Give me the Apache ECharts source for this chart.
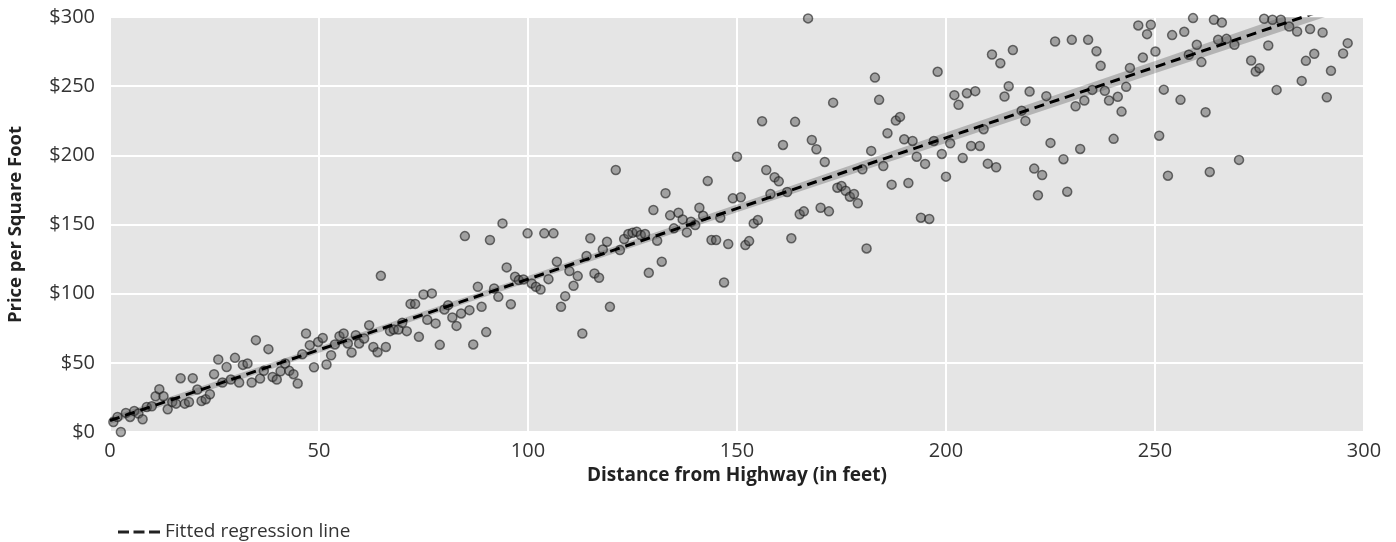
<!DOCTYPE html>
<html>
<head>
<meta charset="utf-8">
<script src="https://cdn.jsdelivr.net/npm/echarts@6/dist/echarts.min.js"></script>
<style>
html,body{margin:0;padding:0;background:#fff;}
#chart{width:1396px;height:542px;}
</style>
</head>
<body>
<div id="chart"></div>
<script>
// Scatter observations: distance (feet) and price per square foot ($)
const distFeet = [
0.8,1.8,2.6,3.8,4.8,5.8,6.8,7.8,8.8,10.0,10.9,11.8,12.8,13.8,14.9,15.8,16.9,17.9,18.9,19.8,
20.9,21.9,22.9,23.9,24.9,25.9,26.9,27.9,28.9,29.9,30.9,31.8,32.9,33.9,34.9,35.9,36.8,37.9,38.9,39.9,
40.8,41.9,42.9,43.9,44.9,46.0,46.9,47.8,48.8,49.8,50.9,51.8,52.9,53.8,54.9,55.9,56.9,57.8,58.8,59.6,
60.8,62.0,63.0,64.0,64.8,66.0,67.0,67.9,69.0,69.9,71.0,71.9,73.0,73.9,75.0,75.9,77.0,77.9,78.9,80.0,
80.9,81.9,82.9,84.0,84.9,86.0,86.9,88.0,88.9,90.0,90.9,91.9,92.9,93.9,94.9,95.9,96.9,97.8,98.9,99.9,
100.9,101.9,103.0,103.9,104.9,106.1,106.9,107.9,108.9,109.9,110.9,111.9,113.0,114.0,114.9,115.9,117.0,117.9,118.9,119.6,
121.0,122.0,123.0,124.0,125.0,126.0,127.0,128.0,128.9,130.0,130.9,132.0,132.9,134.0,134.9,136.0,137.0,138.0,139.0,140.0,
141.0,141.9,143.0,143.9,145.0,146.0,146.9,147.9,149.0,150.0,150.9,152.0,152.9,154.0,155.0,156.0,157.0,158.0,159.0,160.0,
161.0,162.0,163.0,163.9,165.0,166.0,167.0,167.9,169.0,170.0,171.0,172.0,173.0,174.0,175.0,176.0,177.0,178.0,178.9,180.0,
181.0,182.1,183.0,184.0,185.0,186.0,187.0,188.0,189.0,190.0,191.0,192.0,193.0,194.0,195.0,196.0,197.1,198.0,199.0,200.0,
201.0,202.0,203.0,204.0,205.0,206.0,207.0,208.1,209.0,210.0,211.0,212.0,213.0,214.0,215.0,216.0,218.1,219.0,220.0,221.1,
222.0,223.0,224.0,225.0,226.1,228.1,229.0,230.1,231.0,232.1,233.1,234.0,235.0,236.0,237.0,238.0,239.0,240.1,241.1,242.0,
243.1,244.0,246.0,247.1,248.1,249.0,250.1,251.0,252.1,253.1,254.1,256.1,257.0,258.1,259.1,260.0,261.1,262.1,263.1,264.1,
265.1,266.0,267.1,269.0,270.1,273.0,274.1,275.0,276.1,277.1,278.1,279.1,280.1,282.1,284.0,285.1,286.1,287.1,288.1,290.1,
291.1,292.1,295.0,296.1
];
const pricePerSqFt = [
7.2,10.9,0,13.8,10.9,15.2,13.3,9.2,18.1,18.6,25.8,30.9,25.8,16.4,21.7,20.5,38.9,20.5,21.7,38.9,
30.7,22.4,23.7,27.3,41.8,52.4,35.8,47.0,37.9,53.6,35.8,48.5,49.5,35.8,66.4,38.6,44.2,59.9,39.8,37.9,
43.9,49.5,44.2,41.8,35.0,56.2,71.2,62.8,46.8,65.1,68.0,48.8,55.5,63.3,69.3,71.2,64.0,57.5,70.0,64.0,
67.6,77.2,61.5,57.7,112.9,61.5,72.9,74.1,74.1,78.9,72.9,92.6,92.6,68.8,99.4,81.1,100.2,78.5,63.0,88.6,
91.7,82.8,76.7,85.7,141.6,88.1,63.3,105.0,90.5,72.2,138.8,103.8,97.7,150.8,119.0,92.4,112.2,109.8,110.3,143.6,
107.4,105.0,103.0,143.6,110.5,143.6,123.1,90.5,98.2,116.3,105.7,112.7,71.2,127.2,140.0,114.6,111.5,132.0,137.5,90.5,
189.4,131.5,139.5,143.1,144.0,144.8,142.4,143.1,115.1,160.5,138.3,123.1,172.6,156.6,147.2,158.5,153.7,144.3,152.0,149.6,
162.1,156.3,181.5,138.8,138.8,154.9,108.1,135.9,168.9,199.0,169.7,135.1,138.0,150.8,153.2,224.7,189.4,172.0,184.1,181.2,
207.5,173.5,140.0,224.2,157.4,159.5,299.0,211.1,204.4,162.1,195.2,159.5,238.1,176.6,177.8,174.4,170.1,172.0,165.3,189.9,
132.7,203.2,256.2,240.1,192.3,216.0,178.8,225.1,227.8,211.6,180.0,210.4,199.0,154.9,193.8,154.0,210.4,260.4,201.0,184.6,
208.7,243.5,236.5,198.1,244.9,206.8,246.4,206.8,218.9,194.0,272.9,191.4,266.6,242.5,250.0,276.1,232.3,224.9,246.1,190.4,
171.1,185.8,242.8,209.0,282.3,197.2,173.7,283.5,235.5,204.6,239.6,283.5,247.3,275.3,264.7,246.6,239.6,211.9,242.3,231.6,
249.5,263.2,293.9,270.7,287.6,294.4,275.0,214.2,247.5,185.3,286.9,240.1,289.3,272.7,299.2,279.9,267.4,231.2,188.0,298.0,
283.5,296.0,284.2,279.9,196.7,268.5,260.6,263.0,298.7,279.4,298.0,247.3,298.0,293.1,289.5,253.8,268.3,291.3,273.4,288.8,
242.0,261.1,273.6,281.1
];

// Fitted regression line (endpoints)
const fitX = [0, 300];
const fitY = [8.3, 314.9];

// Confidence band around the fitted line
const bandX  = [0, 50, 100, 150, 200, 250, 300];
const bandLo = [5.7, 57.2, 108.3, 158.8, 208.9, 259.4, 309.3];
const bandHi = [10.9, 61.6, 112.7, 164.4, 216.5, 268.2, 320.5];

// Axis ticks
const xTicks = [0, 50, 100, 150, 200, 250, 300];
const yTicks = [0, 50, 100, 150, 200, 250, 300];

const FONT = 'Open Sans';

const scatterData = distFeet.map((x, i) => [x, pricePerSqFt[i]]);
const lineData = fitX.map((x, i) => [x, fitY[i]]);

const chart = echarts.init(document.getElementById('chart'), null, {renderer: 'canvas'});

chart.setOption({
  animation: false,
  backgroundColor: '#ffffff',
  textStyle: {fontFamily: FONT},
  grid: {
    left: 110, right: 32, top: 17, bottom: 110,
    show: true, backgroundColor: '#e5e5e5', borderWidth: 0,
    containLabel: false,
    outerBoundsMode: 'none'
  },
  legend: {
    data: [{
      name: 'Fitted regression line',
      icon: 'path://M0,0 H11 V3 H0 Z M15.5,0 H26.5 V3 H15.5 Z M31,0 H42 V3 H31 Z',
      itemStyle: {color: '#222222'}
    }],
    left: 113, top: 516,
    itemWidth: 42, itemHeight: 3, itemGap: 12,
    textStyle: {fontFamily: FONT, fontSize: 19, color: '#333333', lineHeight: 22, padding: [0, 0, 0, 0]}
  },
  xAxis: {
    type: 'value', min: xTicks[0], max: xTicks[xTicks.length - 1], interval: 50,
    name: 'Distance from Highway (in feet)',
    nameLocation: 'middle', nameGap: 24,
    nameTextStyle: {fontFamily: FONT, fontSize: 19, fontWeight: 'bold', color: '#222222'},
    axisLine: {show: false}, axisTick: {show: false},
    axisLabel: {fontFamily: FONT, fontSize: 20, color: '#333333', margin: 9},
    splitLine: {show: true, lineStyle: {color: '#ffffff', width: 2}}
  },
  yAxis: {
    type: 'value', min: yTicks[0], max: yTicks[yTicks.length - 1], interval: 50,
    name: 'Price per Square Foot',
    nameLocation: 'middle', nameGap: 85, nameRotate: 90,
    nameTextStyle: {fontFamily: FONT, fontSize: 18.5, fontWeight: 'bold', color: '#222222'},
    axisLine: {show: false}, axisTick: {show: false},
    axisLabel: {fontFamily: FONT, fontSize: 20, color: '#333333', margin: 15,
      formatter: v => '$' + v},
    splitLine: {show: true, lineStyle: {color: '#ffffff', width: 2}}
  },
  series: [
    {
      name: 'band',
      type: 'custom',
      clip: true,
      silent: true,
      z: 1,
      data: [[0, 0]],
      renderItem: function (params, api) {
        const upper = bandX.map((x, i) => api.coord([x, bandHi[i]]));
        const lower = bandX.map((x, i) => api.coord([x, bandLo[i]])).reverse();
        return {
          type: 'polygon',
          shape: {points: upper.concat(lower)},
          style: {fill: 'rgba(0,0,0,0.21)'}
        };
      }
    },
    {
      name: 'points',
      type: 'scatter',
      z: 2,
      symbol: 'circle',
      symbolSize: 9,
      data: scatterData,
      itemStyle: {
        color: 'rgba(85,85,85,0.6)',
        borderColor: 'rgba(25,25,25,0.75)',
        borderWidth: 1.5
      }
    },
    {
      name: 'Fitted regression line',
      type: 'line',
      z: 3,
      clip: true,
      symbol: 'none',
      data: lineData,
      lineStyle: {color: '#000000', width: 3, type: [10, 6]},
      itemStyle: {color: '#000000'}
    }
  ]
});
</script>
</body>
</html>
